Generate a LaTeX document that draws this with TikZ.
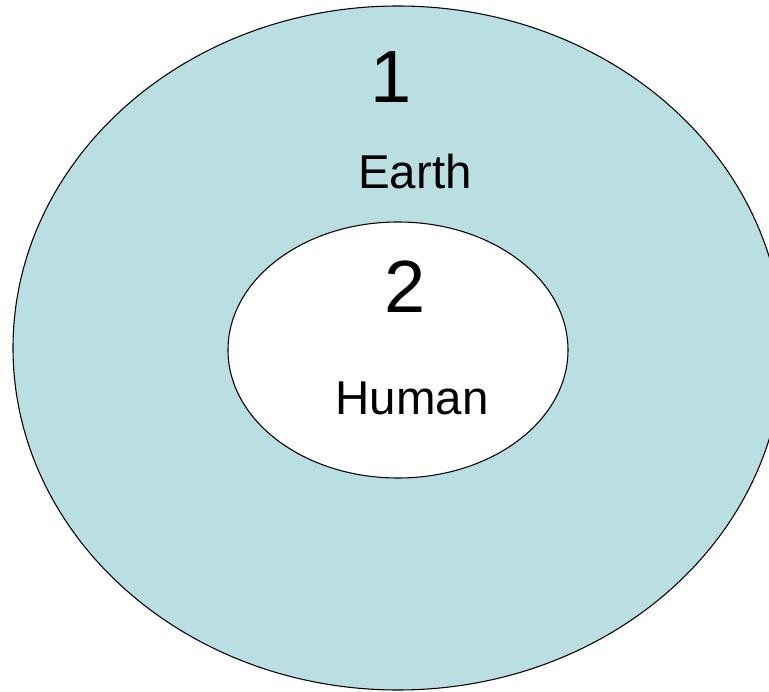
\documentclass[tikz,border=0pt]{standalone}
\usepackage{fontspec}
\setmainfont{Liberation Sans}
\usetikzlibrary{shapes.geometric}
\definecolor{sea}{HTML}{B9DFE2}
\tikzset{
  ring/.style={ellipse,draw=black,line width=0.8pt,inner sep=0pt},
  big/.style={font=\fontsize{55.5}{60}\selectfont,anchor=base,inner sep=0pt},
  lbl/.style={font=\fontsize{35.6}{40}\selectfont,anchor=base,inner sep=0pt},
}
\begin{document}
\begin{tikzpicture}[x=0.75pt,y=-0.75pt]
\useasboundingbox (0,0) rectangle (769,692);
\node[ring,fill=sea,minimum width=577.5pt,minimum height=513pt] (earth) at (398,348) {};
\node[ring,fill=white,minimum width=255pt,minimum height=192pt] (human) at (398,350) {};
\node[big] (one) at (391,103) {1};
\node[lbl] (earthtxt) at (415,189) {Earth};
\node[big] (two) at (405,312) {2};
\node[lbl] (humantxt) at (412,414) {Human};
\end{tikzpicture}
\end{document}
